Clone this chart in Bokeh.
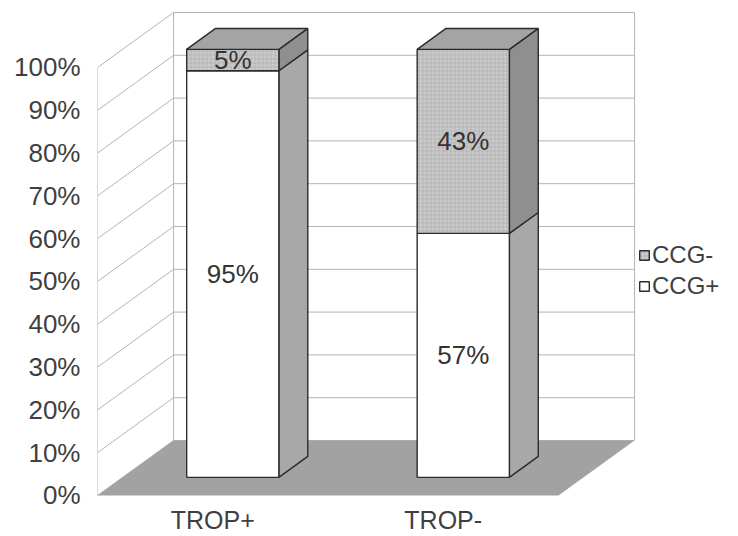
from bokeh.plotting import figure
from bokeh.models import Range1d, FixedTicker, Legend, LegendItem
from bokeh.embed import file_html
from bokeh.resources import INLINE
from bokeh.core.properties import value

# ---- data -------------------------------------------------------------
categories = ["TROP+", "TROP-"]
ccg_pos = [95, 57]          # share of CCG+ (%)
ccg_neg = [5, 43]           # share of CCG- (%)
y_ticks = [0, 10, 20, 30, 40, 50, 60, 70, 80, 90, 100]
y_tick_labels = ["0%", "10%", "20%", "30%", "40%", "50%", "60%", "70%", "80%", "90%", "100%"]

# ---- 3D look: oblique projection ----------------------------------------
DX = 0.33      # x shift of the full depth (category units)
DY = 12.85     # y shift of the full depth (percent units)
Z0, Z1 = 0.33, 0.71   # depth span of the bars
BAR_W = 0.40
BAR_SHIFT = -0.022
NCAT = len(categories)
centers = [i + 0.5 for i in range(NCAT)]
FONT = "Liberation Sans"
TEXT = "#3f3f3f"


def proj(x, y, z):
    return x + z * DX, y + z * DY


p = figure(width=738, height=536, output_backend="svg", toolbar_location=None,
           x_range=Range1d(0, 2.781), y_range=Range1d(-0.47, 115.65),
           min_border_left=97, min_border_right=0, min_border_top=0,
           min_border_bottom=36, title=None)
p.outline_line_color = None
p.grid.visible = False
p.background_fill_color = "white"
p.border_fill_color = "white"

# walls: grid lines on the left wall and the back wall
GRID = "#b4b4b4"
for t in y_ticks:
    bx, by = proj(0, t, 1)
    ex, ey = proj(NCAT, t, 1)
    p.line([0, bx], [t, by], line_color=GRID, line_width=1)
    p.line([bx, ex], [by, ey], line_color=GRID, line_width=1)
for xe, ze in [(0, 0), (0, 1), (NCAT, 1)]:
    x0, y0 = proj(xe, 0, ze)
    x1, y1 = proj(xe, 100, ze)
    p.line([x0, x1], [y0, y1], line_color=GRID, line_width=1)

# floor
fl = [proj(0, 0, 0), proj(NCAT, 0, 0), proj(NCAT, 0, 1), proj(0, 0, 1)]
p.patch([q[0] for q in fl], [q[1] for q in fl], fill_color="#a2a2a2", line_color=None)

EDGE = "#2b2b2b"
series = [("CCG+", ccg_pos, "white", "#a8a8a8", None),
          ("CCG-", ccg_neg, "#cacaca", "#8f8f8f", "cross")]

front = {}
label_x, label_y, label_t = [], [], []
bottoms = [0] * NCAT
for name, vals, front_col, side_col, hatch in series:
    lefts, rights, bots, tops = [], [], [], []
    sxs, sys = [], []
    for i, c in enumerate(centers):
        xl, xr = c + BAR_SHIFT - BAR_W / 2, c + BAR_SHIFT + BAR_W / 2
        b, t = bottoms[i], bottoms[i] + vals[i]
        lefts.append(xl + Z0 * DX)
        rights.append(xr + Z0 * DX)
        bots.append(b + Z0 * DY)
        tops.append(t + Z0 * DY)
        side = [proj(xr, b, Z0), proj(xr, b, Z1), proj(xr, t, Z1), proj(xr, t, Z0)]
        sxs.append([q[0] for q in side])
        sys.append([q[1] for q in side])
        lx, ly = proj(c + BAR_SHIFT, (b + t) / 2, Z0)
        label_x.append(lx)
        label_y.append(ly)
        label_t.append(f"{vals[i]}%")
        bottoms[i] = t
    p.patches(sxs, sys, fill_color=side_col, line_color=EDGE, line_width=1.4)
    kw = {}
    if hatch:
        kw = dict(hatch_pattern=hatch, hatch_color="#9c9c9c", hatch_scale=4,
                  hatch_alpha=0.35, hatch_weight=1)
    front[name] = p.quad(left=lefts, right=rights, bottom=bots, top=tops,
                         fill_color=front_col, line_color=EDGE, line_width=1.4, **kw)

# top faces of the stacks
txs, tys = [], []
for i, c in enumerate(centers):
    xl, xr = c + BAR_SHIFT - BAR_W / 2, c + BAR_SHIFT + BAR_W / 2
    top = [proj(xl, bottoms[i], Z0), proj(xr, bottoms[i], Z0),
           proj(xr, bottoms[i], Z1), proj(xl, bottoms[i], Z1)]
    txs.append([q[0] for q in top])
    tys.append([q[1] for q in top])
p.patches(txs, tys, fill_color="#a4a4a4", line_color=EDGE, line_width=1.4)

# value labels on the front faces
p.text(label_x, label_y, text=label_t, text_align="center", text_baseline="middle",
       text_font=value(FONT), text_font_size="26px", text_color="#333333")

# axes
p.yaxis.ticker = FixedTicker(ticks=y_ticks)
p.yaxis.major_label_overrides = {t: s for t, s in zip(y_ticks, y_tick_labels)}
p.yaxis.axis_line_color = None
p.yaxis.major_tick_line_color = None
p.yaxis.minor_tick_line_color = None
p.yaxis.major_label_standoff = 11
p.yaxis.major_label_text_font = FONT
p.yaxis.major_label_text_font_size = "26px"
p.yaxis.major_label_text_color = TEXT

p.xaxis.ticker = FixedTicker(ticks=centers)
p.xaxis.major_label_overrides = {c: n for c, n in zip(centers, categories)}
p.xaxis.axis_line_color = None
p.xaxis.major_tick_line_color = None
p.xaxis.minor_tick_line_color = None
p.xaxis.major_label_standoff = 2
p.xaxis.major_label_text_font = FONT
p.xaxis.major_label_text_font_size = "25px"
p.xaxis.major_label_text_color = TEXT

# legend
legend = Legend(items=[LegendItem(label="CCG-", renderers=[front["CCG-"]]),
                       LegendItem(label="CCG+", renderers=[front["CCG+"]])],
                location=(541, 197), orientation="vertical",
                glyph_width=12, glyph_height=12, spacing=3, padding=0, margin=0,
                label_standoff=2, border_line_color=None, background_fill_alpha=0,
                label_text_font=FONT, label_text_font_size="24px",
                label_text_color=TEXT)
p.add_layout(legend)

open("out.html", "w").write(file_html(p, INLINE))
